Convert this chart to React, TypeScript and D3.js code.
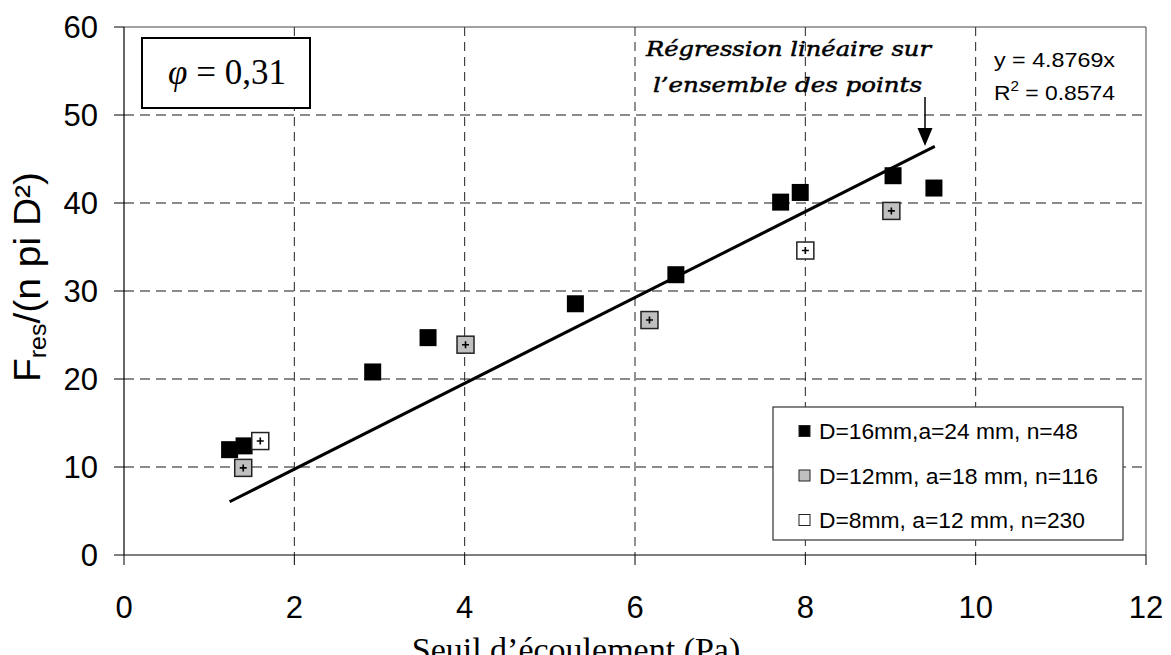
import * as d3 from "d3";

// D=16mm, a=24 mm, n=48
const d16X = [1.24, 1.41, 2.92, 3.57, 5.3, 6.48, 7.71, 7.94, 9.03, 9.51];
const d16Y = [11.97, 12.4, 20.8, 24.7, 28.55, 31.85, 40.1, 41.2, 43.1, 41.7];
// D=12mm, a=18 mm, n=116
const d12X = [1.4, 4.01, 6.17, 9.01];
const d12Y = [9.9, 23.9, 26.7, 39.1];
// D=8mm, a=12 mm, n=230
const d8X = [1.6, 8.0];
const d8Y = [12.95, 34.6];

const xTicks = [0, 2, 4, 6, 8, 10, 12];
const yTicks = [0, 10, 20, 30, 40, 50, 60];
const slope = 4.8769;
const fitRange = [1.24, 9.52];

const legendLabels = [
  "D=16mm,a=24 mm, n=48",
  "D=12mm, a=18 mm, n=116",
  "D=8mm, a=12 mm, n=230",
];
const legendWidths = [259, 279, 266];
const legendFills = ["#000", "#c0c0c0", "#fff"];

const W = 1171;
const H = 655;
const sans = "'Liberation Sans', Arial, sans-serif";
const serif = "'Liberation Serif', 'Times New Roman', serif";

const Marker = ({ x, y, fill, plus }: { x: number; y: number; fill: string; plus: boolean }) => {
  const s = 17;
  return (
    <g>
      <rect
        x={x - s / 2}
        y={y - s / 2}
        width={s}
        height={s}
        fill={fill}
        stroke={plus ? "#222" : "none"}
        strokeWidth={1.5}
      />
      {plus && (
        <path
          d={`M${x - 3.5},${y}H${x + 3.5}M${x},${y - 3.5}V${y + 3.5}`}
          stroke="#000"
          strokeWidth={1.6}
        />
      )}
    </g>
  );
};

export default function App() {
  const x = d3.scaleLinear().domain([0, 12]).range([124, 1146]);
  const y = d3.scaleLinear().domain([0, 60]).range([555, 27]);

  const fitLine = d3
    .line<number>()
    .x((d) => x(d))
    .y((d) => y(slope * d));

  const series = [
    { xs: d16X, ys: d16Y, fill: legendFills[0], plus: false },
    { xs: d12X, ys: d12Y, fill: legendFills[1], plus: true },
    { xs: d8X, ys: d8Y, fill: legendFills[2], plus: true },
  ];

  return (
    <svg
      width={W}
      height={H}
      style={{ position: "absolute", left: 0, top: 0, display: "block" }}
    >
      <rect width={W} height={H} fill="#fff" />

      {/* grid */}
      {yTicks.slice(1, -1).map((t) => (
        <line
          key={"gy" + t}
          x1={x(0)}
          x2={x(12)}
          y1={y(t)}
          y2={y(t)}
          stroke="#666"
          strokeWidth={1.3}
          strokeDasharray="10,6"
        />
      ))}
      {xTicks.slice(1, -1).map((t) => (
        <line
          key={"gx" + t}
          x1={x(t)}
          x2={x(t)}
          y1={y(60)}
          y2={y(0)}
          stroke="#222"
          strokeWidth={1}
          strokeDasharray="9,6"
        />
      ))}

      {/* frame */}
      <line x1={x(0)} x2={x(12)} y1={y(60)} y2={y(60)} stroke="#444" strokeWidth={1} />
      <line x1={x(12)} x2={x(12)} y1={y(60)} y2={y(0)} stroke="#444" strokeWidth={1} />
      <line x1={x(0)} x2={x(0)} y1={y(60)} y2={y(0)} stroke="#000" strokeWidth={1.2} />
      <line x1={x(0)} x2={x(12)} y1={y(0)} y2={y(0)} stroke="#000" strokeWidth={1.2} />

      {/* ticks */}
      {yTicks.map((t) => (
        <g key={"ty" + t}>
          <line x1={x(0) - 10} x2={x(0)} y1={y(t)} y2={y(t)} stroke="#000" />
          <text
            x={98}
            y={y(t) + 11}
            textAnchor="end"
            fontFamily={sans}
            fontSize={31}
          >
            {t}
          </text>
        </g>
      ))}
      {xTicks.map((t) => (
        <g key={"tx" + t}>
          <line x1={x(t)} x2={x(t)} y1={y(0)} y2={y(0) + 10} stroke="#000" />
          <text
            x={x(t)}
            y={618}
            textAnchor="middle"
            fontFamily={sans}
            fontSize={31}
          >
            {t}
          </text>
        </g>
      ))}

      {/* axis titles */}
      <text x={576} y={661} textAnchor="middle" fontFamily={serif} fontSize={34}>
        Seuil d’écoulement (Pa)
      </text>
      <text
        transform="translate(40,382) rotate(-90)"
        fontFamily={sans}
        fontSize={36}
        textLength={210}
        lengthAdjust="spacingAndGlyphs"
      >
        F
        <tspan fontSize={23} dy={6}>
          res
        </tspan>
        <tspan dy={-6}>/(n pi D²)</tspan>
      </text>

      {/* regression line */}
      <path d={fitLine(fitRange) || ""} stroke="#000" strokeWidth={3} fill="none" />

      {/* points */}
      {series.map((s, i) =>
        s.xs.map((v, j) => (
          <Marker
            key={i + "-" + j}
            x={x(v)}
            y={y(s.ys[j])}
            fill={s.fill}
            plus={s.plus}
          />
        ))
      )}

      {/* phi box */}
      <rect x={142} y={38} width={168} height={70} fill="#fff" stroke="#000" strokeWidth={2} />
      <text x={227} y={84} textAnchor="middle" fontFamily={serif} fontSize={35}>
        <tspan fontStyle="italic">φ</tspan> = 0,31
      </text>

      {/* regression annotation */}
      <text
        x={646}
        y={56}
        fontFamily="'DejaVu Serif', serif"
        fontStyle="italic"
        fontSize={21}
        stroke="#000"
        strokeWidth={0.5}
        textLength={285}
        lengthAdjust="spacingAndGlyphs"
      >
        Régression linéaire sur
      </text>
      <text
        x={653}
        y={92}
        fontFamily="'DejaVu Serif', serif"
        fontStyle="italic"
        fontSize={21}
        stroke="#000"
        strokeWidth={0.5}
        textLength={269}
        lengthAdjust="spacingAndGlyphs"
      >
        l’ensemble des points
      </text>
      <line x1={925} x2={925} y1={97} y2={130} stroke="#000" strokeWidth={1.5} />
      <path d="M917.5,128 L932.5,128 L925,146 Z" fill="#000" />

      {/* equation */}
      <text x={994} y={67} fontFamily={sans} fontSize={21} textLength={121} lengthAdjust="spacingAndGlyphs">
        y = 4.8769x
      </text>
      <text x={994} y={100} fontFamily={sans} fontSize={21} textLength={121} lengthAdjust="spacingAndGlyphs">
        R
        <tspan fontSize={14} dy={-9}>
          2
        </tspan>
        <tspan dy={9}> = 0.8574</tspan>
      </text>

      {/* legend */}
      <rect x={773} y={407} width={350} height={133} fill="#fff" stroke="#333" strokeWidth={1.2} />
      {legendLabels.map((lab, i) => {
        const cy = 431 + i * 44.5;
        return (
          <g key={lab}>
            <rect
              x={799}
              y={cy - 5.5}
              width={11}
              height={11}
              fill={legendFills[i]}
              stroke="#222"
              strokeWidth={1}
            />
            <text
              x={819}
              y={cy + 8}
              fontFamily={sans}
              fontSize={22}
              textLength={legendWidths[i]}
              lengthAdjust="spacingAndGlyphs"
            >
              {lab}
            </text>
          </g>
        );
      })}
    </svg>
  );
}
